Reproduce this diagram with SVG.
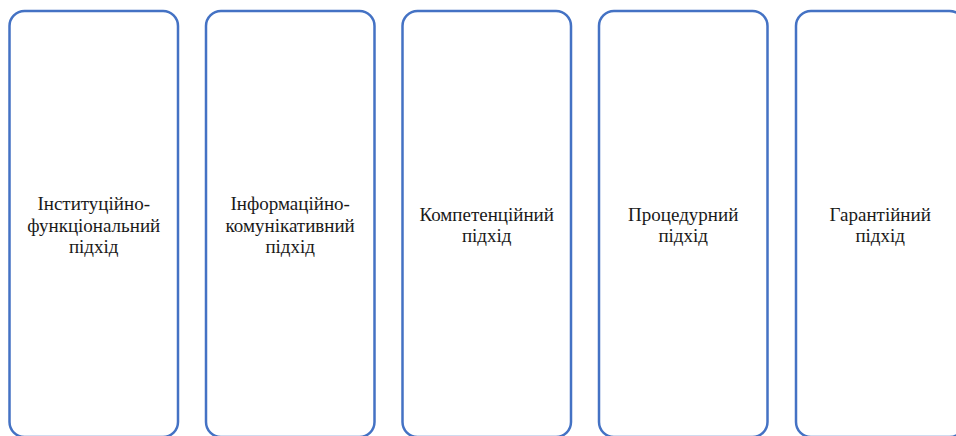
<svg xmlns="http://www.w3.org/2000/svg" width="956" height="436" viewBox="0 0 956 436">
<style>
.box{fill:#ffffff;stroke:#4472C4;stroke-width:2.5}
.t{font-size:19px;fill:#1a1a1a;text-anchor:middle}
</style>
<rect width="956" height="436" fill="#ffffff"/>
<g id="connectors"></g>
<g font-family="Liberation Serif, serif">
<g id="n1"><rect class="box" x="9.5" y="11" width="168.5" height="426" rx="15"/>
<text class="t" font-family="Liberation Serif, serif"><tspan x="93.7" y="210">Інституційно-</tspan><tspan x="93.7" y="231.5">функціональний</tspan><tspan x="93.7" y="253">підхід</tspan></text></g>
<g id="n2"><rect class="box" x="206" y="11" width="168.5" height="426" rx="15"/>
<text class="t" font-family="Liberation Serif, serif"><tspan x="290.2" y="210">Інформаційно-</tspan><tspan x="290.2" y="231.5">комунікативний</tspan><tspan x="290.2" y="253">підхід</tspan></text></g>
<g id="n3"><rect class="box" x="402.5" y="11" width="168.5" height="426" rx="15"/>
<text class="t" font-family="Liberation Serif, serif"><tspan x="486.7" y="220.5">Компетенційний</tspan><tspan x="486.7" y="242">підхід</tspan></text></g>
<g id="n4"><rect class="box" x="599" y="11" width="168.5" height="426" rx="15"/>
<text class="t" font-family="Liberation Serif, serif"><tspan x="683.2" y="220.5">Процедурний</tspan><tspan x="683.2" y="242">підхід</tspan></text></g>
<g id="n5"><rect class="box" x="796" y="11" width="168.5" height="426" rx="15"/>
<text class="t" font-family="Liberation Serif, serif"><tspan x="880.2" y="220.5">Гарантійний</tspan><tspan x="880.2" y="242">підхід</tspan></text></g>
</g>
</svg>
